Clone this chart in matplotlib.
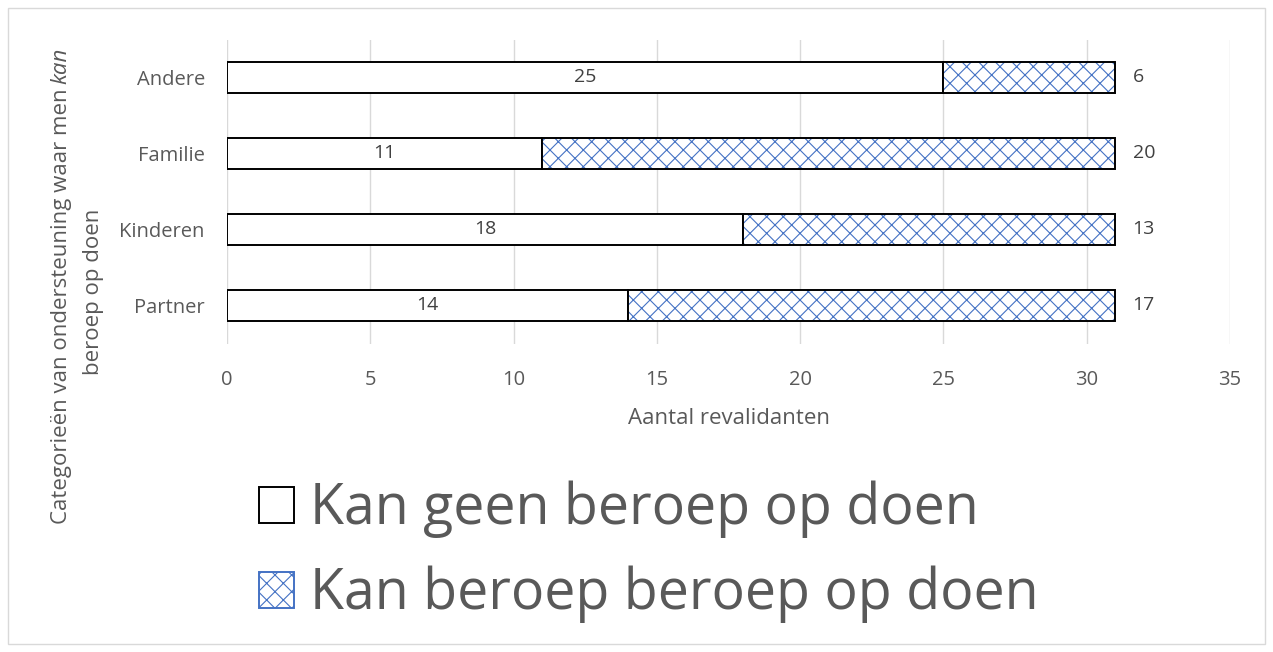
import matplotlib.pyplot as plt
from matplotlib.patches import Patch, Rectangle
import numpy as np

plt.rcParams['font.family'] = ['Open Sans', 'DejaVu Sans']
plt.rcParams['hatch.linewidth'] = 0.8

categories = ['Partner', 'Kinderen', 'Familie', 'Andere']
geen = [14, 18, 11, 25]
wel = [17, 13, 20, 6]
xticks = [0, 5, 10, 15, 20, 25, 30, 35]

txt = '#595959'
blue = '#4472C4'

fig = plt.figure(figsize=(12.73, 6.52), dpi=100)
ax = fig.add_axes([227 / 1273, 1 - 343.5 / 652, (1230 - 227) / 1273, 304 / 652])

y = np.arange(len(categories))
h = 0.41
ax.barh(y, geen, height=h, color='white', edgecolor='black', linewidth=1.4, zorder=3)
ax.barh(y, wel, left=geen, height=h, color='white', edgecolor=blue, hatch='xx',
        linewidth=0, zorder=3)
ax.barh(y, wel, left=geen, height=h, fill=False, edgecolor='black', linewidth=1.4, zorder=4)

for i in range(len(categories)):
    ax.text(geen[i] / 2, y[i], str(geen[i]), ha='center', va='center', fontsize=14,
            color='#404040', zorder=5)
    ax.text(geen[i] + wel[i] + 0.6, y[i], str(wel[i]), ha='left', va='center', fontsize=14,
            color='#404040', zorder=5)

ax.set_xlim(0, 35)
ax.set_ylim(-0.5, 3.5)
ax.set_xticks(xticks)
ax.set_yticks(y)
ax.set_yticklabels(categories)
ax.tick_params(length=0, labelsize=14.5, colors=txt)
ax.tick_params(axis='x', pad=19)
ax.tick_params(axis='y', pad=16)
ax.grid(axis='x', color='#D9D9D9', linewidth=1, zorder=0)
for s in ax.spines.values():
    s.set_visible(False)
ax.set_xlabel('Aantal revalidanten', fontsize=16, color=txt, labelpad=13)

# y-as titel in twee regels, met "kan" cursief
t1 = fig.text(61 / 1273, 1 - 306 / 652, 'Categorieën van ondersteuning waar men',
              rotation=90, ha='center', va='center', fontsize=16, color=txt)
ax.annotate('kan', xy=(0.5, 1), xycoords=t1, xytext=(0, 3), textcoords='offset points',
            rotation=90, ha='center', va='bottom', fontsize=16, color=txt,
            style='italic', annotation_clip=False)
fig.text(93 / 1273, 1 - 292 / 652, 'beroep op doen',
         rotation=90, ha='center', va='center', fontsize=16, color=txt)

handles = [Patch(facecolor='white', edgecolor='black', linewidth=1.4),
           Patch(facecolor='white', edgecolor=blue, hatch='xx', linewidth=1.4)]
leg = fig.legend(handles, ['Kan geen beroep op doen', 'Kan beroep beroep op doen'],
                 loc='center', bbox_to_anchor=(0.51, 1 - 552 / 652), frameon=False,
                 fontsize=40, labelcolor=txt, handlelength=0.62, handleheight=0.62,
                 handletextpad=0.3, labelspacing=0.5)

fig.patches.append(Rectangle((8 / 1273, 1 - 644 / 652), 1257 / 1273, 636 / 652,
                             transform=fig.transFigure, fill=False,
                             edgecolor='#D9D9D9', linewidth=1))

fig.savefig('out.png', dpi=100)
